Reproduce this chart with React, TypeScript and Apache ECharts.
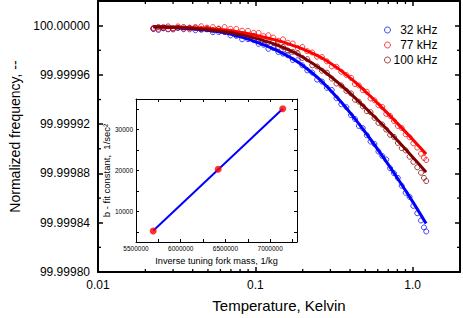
import React, { useEffect, useRef } from 'react';
import * as echarts from 'echarts';

const FONT = "'Liberation Sans', Arial, Helvetica, sans-serif";

// Temperatures (K) of the measured points, shared by the three forks
const temperatureK = [
  0.0225, 0.0242, 0.026, 0.0279, 0.03, 0.0322, 0.035, 0.0382, 0.0416, 0.0453, 0.0493, 0.0537, 0.0585, 0.0638, 0.0695,
  0.0757, 0.0824, 0.0898, 0.0977, 0.105, 0.113, 0.121, 0.13, 0.14, 0.15, 0.161, 0.173, 0.186, 0.199, 0.214, 0.23,
  0.247, 0.265, 0.285, 0.306, 0.328, 0.352, 0.379, 0.406, 0.43, 0.455, 0.482, 0.511, 0.54, 0.572, 0.606, 0.641,
  0.679, 0.719, 0.761, 0.805, 0.852, 0.903, 0.956, 1.01, 1.07, 1.13, 1.18, 1.22,
];

const freq32kHz = [
  99.9999974, 99.9999965, 99.9999979, 99.999997, 99.9999976, 99.9999982, 99.9999971, 99.9999983, 99.9999963,
  99.9999967, 99.999997, 99.9999947, 99.9999948, 99.9999949, 99.9999921, 99.9999917, 99.9999889, 99.999989,
  99.9999882, 99.9999852, 99.9999845, 99.9999812, 99.9999819, 99.9999786, 99.9999773, 99.999976, 99.9999721,
  99.9999719, 99.9999678, 99.9999637, 99.9999619, 99.9999562, 99.9999546, 99.9999495, 99.9999478, 99.9999411,
  99.9999362, 99.9999338, 99.9999273, 99.9999242, 99.9999186, 99.9999168, 99.999911, 99.9999059, 99.9999039,
  99.9998978, 99.9998942, 99.9998913, 99.9998842, 99.9998802, 99.9998764, 99.99987, 99.9998643, 99.999861,
  99.9998537, 99.9998477, 99.9998418, 99.9998362, 99.9998329,
];

const freq77kHz = [
  99.9999982, 99.9999974, 99.9999989, 99.9999972, 99.9999979, 99.9999994, 99.9999977, 99.9999983, 99.9999989,
  99.9999995, 99.9999984, 99.9999988, 99.9999976, 99.9999988, 99.9999974, 99.9999974, 99.9999959, 99.9999958,
  99.9999941, 99.9999941, 99.9999915, 99.9999922, 99.9999903, 99.9999877, 99.9999889, 99.9999861, 99.9999855,
  99.9999818, 99.9999827, 99.9999793, 99.9999782, 99.9999747, 99.9999745, 99.999971, 99.9999669, 99.9999666,
  99.9999625, 99.99996, 99.9999576, 99.9999526, 99.9999514, 99.9999476, 99.9999463, 99.9999409, 99.9999394,
  99.9999354, 99.999934, 99.9999284, 99.9999267, 99.9999226, 99.9999186, 99.9999169, 99.9999119, 99.9999094,
  99.9999045, 99.999901, 99.999896, 99.9998926, 99.9998909,
];

const freq100kHz = [
  99.9999974, 99.9999989, 99.9999979, 99.9999994, 99.9999969, 99.9999983, 99.9999989, 99.999997, 99.9999982,
  99.9999971, 99.9999975, 99.9999962, 99.9999972, 99.9999951, 99.999995, 99.9999925, 99.9999932, 99.9999913,
  99.9999917, 99.9999882, 99.9999886, 99.9999866, 99.9999869, 99.9999828, 99.9999827, 99.9999798, 99.9999787,
  99.9999774, 99.9999738, 99.9999728, 99.9999678, 99.9999668, 99.9999634, 99.9999618, 99.999957, 99.999953,
  99.9999514, 99.999947, 99.999945, 99.9999398, 99.9999383, 99.9999345, 99.9999306, 99.9999298, 99.9999251,
  99.9999211, 99.9999197, 99.9999156, 99.9999114, 99.9999097, 99.9999048, 99.9999006, 99.9998987, 99.9998936,
  99.9998894, 99.999885, 99.9998806, 99.9998764, 99.9998738,
];

// Fitted curves
const fitTemperatureK = [
  0.0225, 0.0336, 0.048, 0.0638, 0.0848, 0.108, 0.1357, 0.1656, 0.1993, 0.265, 0.3524, 0.4364, 0.5252, 0.6597,
  0.8287, 1.0115, 1.2175,
];
const fit32kHz = [
  99.999999, 99.9999981, 99.9999965, 99.9999941, 99.9999901, 99.9999854, 99.9999802, 99.9999744, 99.9999678,
  99.9999546, 99.9999378, 99.9999233, 99.9999098, 99.999892, 99.9998733, 99.9998561, 99.9998393,
];
const fit77kHz = [
  99.999999, 99.9999986, 99.9999978, 99.9999964, 99.9999941, 99.9999913, 99.9999882, 99.9999848, 99.9999811,
  99.9999737, 99.9999633, 99.9999535, 99.9999441, 99.9999316, 99.9999186, 99.9999069, 99.9998957,
];
const fit100kHz = [
  99.999999, 99.9999982, 99.9999969, 99.9999951, 99.9999921, 99.9999886, 99.9999845, 99.9999799, 99.9999746,
  99.9999642, 99.9999514, 99.9999406, 99.9999307, 99.9999181, 99.9999047, 99.9998926, 99.999881,
];

const seriesNames = ['32 kHz', '77 kHz', '100 kHz'];
const seriesColors = ['#0000ff', '#ff0000', '#800000'];

// Main axes
const X_MIN = 0.01;
const X_MAX = 2;
const Y_MIN = 99.9998;
const Y_MAX = 100.00002;
const Y_STEP = 0.00004;
const xTickLabels: Record<number, string> = { [-2]: '0.01', [-1]: '0.1', [0]: '1.0' };
const xMinorTicks = [0.02, 0.03, 0.04, 0.05, 0.06, 0.07, 0.08, 0.09, 0.2, 0.3, 0.4, 0.5, 0.6, 0.7, 0.8, 0.9];
const yMinorTicks = [99.99982, 99.99986, 99.9999, 99.99994, 99.99998];

// Inset: b fit constant vs inverse tuning-fork mass
const insetInvMass = [5692000, 6419000, 7141000];
const insetB = [5200, 20300, 35100];
const insetFitInvMass = [5692000, 7141000];
const insetFitB = [5230, 35130];
const insetXTicks = [5750000, 6000000, 6250000, 6500000, 6750000, 7000000, 7250000];
const insetXLabels = [5500000, 6000000, 6500000, 7000000];
const insetYTicks = [5000, 10000, 15000, 20000, 25000, 30000, 35000];
const insetYLabels = [10000, 20000, 30000];

export default function App() {
  const ref = useRef<HTMLDivElement>(null);

  useEffect(() => {
    if (!ref.current) return;
    const chart = echarts.init(ref.current, null, { renderer: 'svg' });

    const freqs = [freq32kHz, freq77kHz, freq100kHz];
    const fits = [fit32kHz, fit77kHz, fit100kHz];

    const mainTick = { show: true, inside: true, length: 5, lineStyle: { color: '#000', width: 1.5 } };
    const mainLine = { show: true, onZero: false, lineStyle: { color: '#000', width: 2 } };
    const insetLine = { show: true, onZero: false, lineStyle: { color: '#000', width: 1 } };
    const insetTickX = { show: true, inside: true, length: 3, customValues: insetXTicks, lineStyle: { color: '#000', width: 1 } };
    const insetTickY = { show: true, inside: true, length: 3, customValues: insetYTicks, lineStyle: { color: '#000', width: 1 } };

    const xLabelFmt = (v: number) => {
      const e = Math.log10(v);
      const r = Math.round(e);
      if (Math.abs(e - r) < 1e-6 && xTickLabels[r] !== undefined) return xTickLabels[r];
      return '';
    };
    const yLabelFmt = (v: number) => {
      const k = v / Y_STEP;
      if (Math.abs(k - Math.round(k)) > 1e-3) return '';
      return v.toFixed(5);
    };

    const scatterSeries = seriesNames.map((name, i) => ({
      name,
      type: 'scatter',
      xAxisIndex: 0,
      yAxisIndex: 0,
      symbol: 'circle',
      symbolSize: 5,
      silent: true,
      z: 2,
      itemStyle: { color: 'rgba(255,255,255,0)', borderColor: seriesColors[i], borderWidth: 1, opacity: 0.75 },
      data: temperatureK.map((t, j) => [t, freqs[i][j]]),
    }));

    const fitSeries = seriesNames.map((name, i) => ({
      name: name + ' fit',
      type: 'line',
      xAxisIndex: 0,
      yAxisIndex: 0,
      showSymbol: false,
      smooth: 0.3,
      silent: true,
      z: 3,
      lineStyle: { color: seriesColors[i], width: 3 },
      data: fitTemperatureK.map((t, j) => [t, fits[i][j]]),
    }));

    const minorX = {
      type: 'custom',
      xAxisIndex: 0,
      yAxisIndex: 0,
      silent: true,
      clip: false,
      z: 5,
      data: xMinorTicks.map((v) => [v, Y_MIN]),
      renderItem: (params: any, api: any) => {
        const cs = params.coordSys;
        const px = api.coord([api.value(0), Y_MIN])[0];
        const bottom = cs.y + cs.height;
        return {
          type: 'group',
          children: [
            { type: 'line', shape: { x1: px, y1: bottom, x2: px, y2: bottom - 3 }, style: { stroke: '#000', lineWidth: 1.3 } },
            { type: 'line', shape: { x1: px, y1: cs.y, x2: px, y2: cs.y + 3 }, style: { stroke: '#000', lineWidth: 1.3 } },
          ],
        };
      },
    };

    const minorY = {
      type: 'custom',
      xAxisIndex: 0,
      yAxisIndex: 0,
      silent: true,
      clip: false,
      z: 5,
      data: yMinorTicks.map((v) => [X_MIN, v]),
      renderItem: (params: any, api: any) => {
        const cs = params.coordSys;
        const py = api.coord([X_MIN, api.value(1)])[1];
        const right = cs.x + cs.width;
        return {
          type: 'group',
          children: [
            { type: 'line', shape: { x1: cs.x, y1: py, x2: cs.x + 3, y2: py }, style: { stroke: '#000', lineWidth: 1.3 } },
            { type: 'line', shape: { x1: right, y1: py, x2: right - 3, y2: py }, style: { stroke: '#000', lineWidth: 1.3 } },
          ],
        };
      },
    };

    const option: any = {
      animation: false,
      backgroundColor: '#fff',
      textStyle: { fontFamily: FONT },
      legend: {
        data: seriesNames.map((name, i) => ({
          name,
          icon: 'circle',
          itemStyle: { color: 'rgba(255,255,255,0)', borderColor: seriesColors[i], borderWidth: 1 },
        })),
        orient: 'vertical',
        left: 379,
        top: 19,
        itemWidth: 6,
        itemHeight: 6,
        itemGap: 3,
        selectedMode: false,
        formatter: (name: string) => `{r|${name}}`,
        textStyle: {
          fontFamily: FONT,
          fontSize: 12,
          color: '#000',
          rich: { r: { width: 42, align: 'right', fontSize: 12, lineHeight: 14, fontFamily: FONT, color: '#000' } },
        },
      },
      grid: [
        { left: 91, top: 1, right: 2, bottom: 43, containLabel: false },
        { left: 136, top: 99, width: 161, height: 143, show: true, backgroundColor: '#fff', borderWidth: 0, z: 10 },
      ],
      xAxis: [
        {
          type: 'log',
          gridIndex: 0,
          position: 'bottom',
          min: X_MIN,
          max: X_MAX,
          logBase: 10,
          axisLine: mainLine,
          axisTick: mainTick,
          splitLine: { show: false },
          axisLabel: { formatter: xLabelFmt, fontSize: 12, color: '#000', margin: 7, fontFamily: FONT },
          name: 'Temperature, Kelvin',
          nameLocation: 'middle',
          nameGap: 26,
          nameTextStyle: { fontSize: 15, color: '#000', fontFamily: FONT },
        },
        {
          type: 'log',
          gridIndex: 0,
          position: 'top',
          min: X_MIN,
          max: X_MAX,
          logBase: 10,
          axisLine: mainLine,
          axisTick: mainTick,
          splitLine: { show: false },
          axisLabel: { show: false },
        },
        {
          type: 'value',
          gridIndex: 1,
          position: 'bottom',
          min: 5500000,
          max: 7300000,
          interval: 250000,
          axisLine: insetLine,
          axisTick: insetTickX,
          splitLine: { show: false },
          axisLabel: {
            customValues: insetXLabels,
            formatter: (v: number) => (v % 500000 === 0 ? String(v) : ''),
            fontSize: 6.5,
            color: '#000',
            margin: 3,
            fontFamily: FONT,
            showMinLabel: true,
          },
          name: 'Inverse tuning fork mass, 1/kg',
          nameLocation: 'middle',
          nameGap: 14,
          nameTextStyle: { fontSize: 9.2, color: '#000', fontFamily: FONT },
          z: 11,
        },
        {
          type: 'value',
          gridIndex: 1,
          position: 'top',
          min: 5500000,
          max: 7300000,
          interval: 250000,
          axisLine: insetLine,
          axisTick: insetTickX,
          splitLine: { show: false },
          axisLabel: { show: false },
          z: 11,
        },
      ],
      yAxis: [
        {
          type: 'value',
          gridIndex: 0,
          position: 'left',
          min: Y_MIN,
          max: Y_MAX,
          interval: Y_STEP,
          axisLine: mainLine,
          axisTick: mainTick,
          splitLine: { show: false },
          axisLabel: { formatter: yLabelFmt, fontSize: 12, color: '#000', margin: 8, fontFamily: FONT, showMinLabel: true },
          name: 'Normalized frequency, --',
          nameLocation: 'middle',
          nameGap: 76,
          nameTextStyle: { fontSize: 14, color: '#000', fontFamily: FONT },
        },
        {
          type: 'value',
          gridIndex: 0,
          position: 'right',
          min: Y_MIN,
          max: Y_MAX,
          interval: Y_STEP,
          axisLine: mainLine,
          axisTick: mainTick,
          splitLine: { show: false },
          axisLabel: { show: false },
        },
        {
          type: 'value',
          gridIndex: 1,
          position: 'left',
          min: 2500,
          max: 37500,
          interval: 2500,
          axisLine: insetLine,
          axisTick: insetTickY,
          splitLine: { show: false },
          axisLabel: {
            customValues: insetYLabels,
            formatter: (v: number) => (v % 10000 === 0 ? String(v) : ''),
            fontSize: 6.5,
            color: '#000',
            margin: 3,
            fontFamily: FONT,
          },
          name: 'b - fit constant,  1/sec²',
          nameLocation: 'middle',
          nameGap: 24,
          nameTextStyle: { fontSize: 9.5, color: '#000', fontFamily: FONT },
          z: 11,
        },
        {
          type: 'value',
          gridIndex: 1,
          position: 'right',
          min: 2500,
          max: 37500,
          interval: 2500,
          axisLine: insetLine,
          axisTick: insetTickY,
          splitLine: { show: false },
          axisLabel: { show: false },
          z: 11,
        },
      ],
      series: [
        ...scatterSeries,
        ...fitSeries,
        minorX,
        minorY,
        {
          name: 'b fit',
          type: 'line',
          xAxisIndex: 2,
          yAxisIndex: 2,
          showSymbol: false,
          silent: true,
          z: 12,
          lineStyle: { color: '#0000ff', width: 2 },
          data: insetFitInvMass.map((x, i) => [x, insetFitB[i]]),
        },
        {
          name: 'b',
          type: 'scatter',
          xAxisIndex: 2,
          yAxisIndex: 2,
          symbol: 'circle',
          symbolSize: 7,
          silent: true,
          z: 13,
          itemStyle: { color: '#ff0000' },
          data: insetInvMass.map((x, i) => [x, insetB[i]]),
        },
      ],
    };

    chart.setOption(option);
    return () => chart.dispose();
  }, []);

  return (
    <div
      ref={ref}
      style={{ position: 'fixed', left: 0, top: 0, width: 463, height: 318, background: '#fff' }}
    />
  );
}
